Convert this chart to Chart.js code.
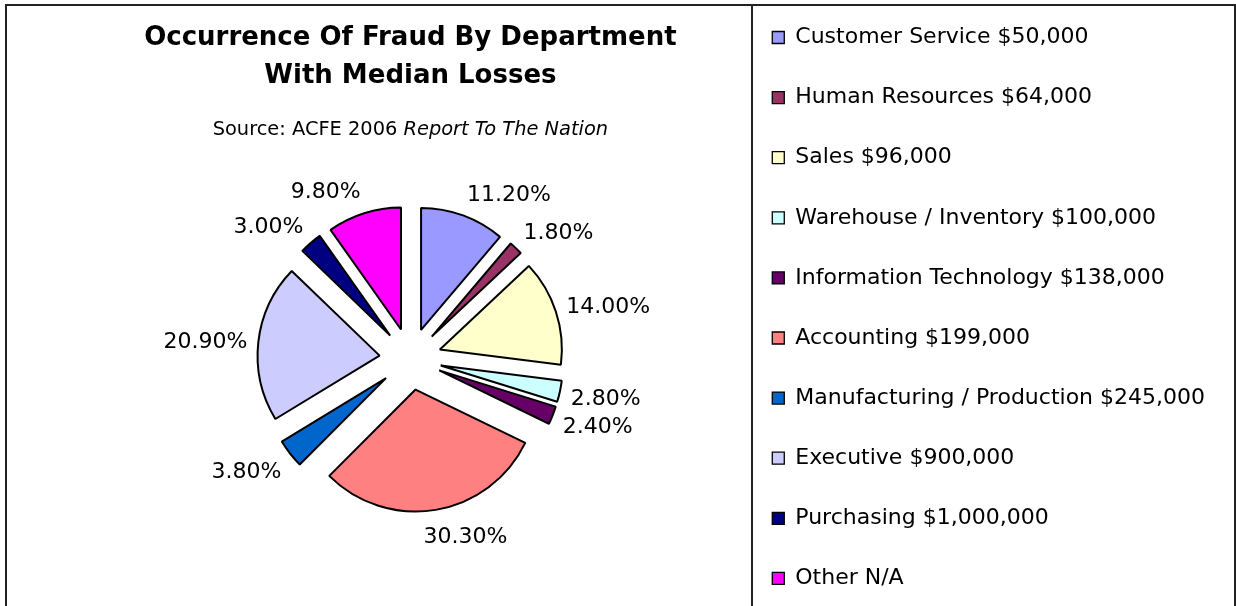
<!DOCTYPE html>
<html>
<head>
<meta charset="utf-8">
<script src="https://cdn.jsdelivr.net/npm/chart.js@4.4.1/dist/chart.umd.min.js"></script>
<style>
  html, body { margin: 0; padding: 0; background: #fff; overflow: hidden; width: 1236px; height: 606px; }
  canvas { display: block; }
</style>
</head>
<body>
<canvas id="c" width="1236" height="648" style="width:1236px;height:648px"></canvas>
<script>
// ---- data ----
const departments = ['Customer Service', 'Human Resources', 'Sales', 'Warehouse / Inventory',
  'Information Technology', 'Accounting', 'Manufacturing / Production', 'Executive', 'Purchasing', 'Other'];
const medianLosses = ['$50,000', '$64,000', '$96,000', '$100,000', '$138,000', '$199,000',
  '$245,000', '$900,000', '$1,000,000', 'N/A'];
const occurrencePct = [11.2, 1.8, 14.0, 2.8, 2.4, 30.3, 3.8, 20.9, 3.0, 9.8];
const chartTitle = ['Occurrence Of Fraud By Department', 'With Median Losses'];
const sourcePlain = 'Source: ACFE 2006 ';
const sourceItalic = 'Report To The Nation';

// ---- style ----
const FONT = '"DejaVu Sans", Verdana, sans-serif';
const sliceColors = ['#9999FF', '#993366', '#FFFFCC', '#CCFFFF', '#660066',
  '#FF8080', '#0066CC', '#CCCCFF', '#000080', '#FF00FF'];
const PIE_RADIUS = 122;
const EXPLODE = 31;

Chart.defaults.font.family = FONT;
Chart.defaults.color = '#000';

// white background, outer frame and the divider left of the legend
const frame = {
  id: 'frame',
  beforeDraw(chart) {
    const { ctx, width, height } = chart;
    ctx.save();
    ctx.fillStyle = '#fff';
    ctx.fillRect(0, 0, width, height);
    ctx.strokeStyle = '#222';
    ctx.lineWidth = 2;
    ctx.strokeRect(6, 5, width - 7, height + 20);
    const x = Math.round(chart.legend.left) + 6;
    ctx.beginPath();
    ctx.moveTo(x, 5);
    ctx.lineTo(x, height);
    ctx.stroke();
    ctx.restore();
  }
};

// pull every slice out from the centre along its own mid-angle
const explode = {
  id: 'explode',
  afterDatasetsUpdate(chart) {
    const a = chart.chartArea;
    const cx = (a.left + a.right) / 2, cy = (a.top + a.bottom) / 2;
    chart.getDatasetMeta(0).data.forEach(arc => {
      const m = (arc.startAngle + arc.endAngle) / 2;
      arc.x = cx + EXPLODE * Math.cos(m);
      arc.y = cy + EXPLODE * Math.sin(m);
    });
  }
};

// percentage labels just outside each slice
const pctLabels = {
  id: 'pctLabels',
  afterDatasetsDraw(chart) {
    const ctx = chart.ctx;
    const values = chart.data.datasets[0].data;
    ctx.save();
    ctx.font = '22px ' + FONT;
    ctx.fillStyle = '#000';
    ctx.textAlign = 'center';
    ctx.textBaseline = 'middle';
    chart.getDatasetMeta(0).data.forEach((arc, i) => {
      const m = (arc.startAngle + arc.endAngle) / 2;
      const c = Math.cos(m), s = Math.sin(m);
      const r = arc.outerRadius + 11;
      const px = arc.x + r * c, py = arc.y + r * s;
      const txt = values[i].toFixed(2) + '%';
      const w = ctx.measureText(txt).width;
      const k = Math.max(-1, Math.min(1, 4 * c));
      ctx.fillText(txt, px + k * w / 2, py + 14 * s + 3);
    });
    ctx.restore();
  }
};

// source line with italic report name
const sourceLine = {
  id: 'sourceLine',
  afterDraw(chart) {
    const ctx = chart.ctx;
    const t = chart.titleBlock;
    const cx = (t.left + t.right) / 2;
    const f1 = '19.4px ' + FONT, f2 = 'italic 19.4px ' + FONT;
    ctx.save();
    ctx.fillStyle = '#000';
    ctx.textBaseline = 'middle';
    ctx.textAlign = 'left';
    ctx.font = f1;
    const w1 = ctx.measureText(sourcePlain).width;
    ctx.font = f2;
    const w2 = ctx.measureText(sourceItalic).width;
    const x = cx - (w1 + w2) / 2, y = 130;
    ctx.font = f1;
    ctx.fillText(sourcePlain, x, y);
    ctx.font = f2;
    ctx.fillText(sourceItalic, x + w1, y);
    ctx.restore();
  }
};

const baseLegendLabels = (Chart.overrides.pie || Chart.overrides.doughnut).plugins.legend.labels.generateLabels;

new Chart(document.getElementById('c'), {
  type: 'pie',
  data: {
    labels: departments.map((d, i) => d + ' ' + medianLosses[i]),
    datasets: [{
      data: occurrencePct,
      backgroundColor: sliceColors,
      borderColor: '#000',
      borderWidth: 2,
      radius: PIE_RADIUS
    }]
  },
  options: {
    responsive: false,
    animation: false,
    events: [],
    layout: { padding: { left: 75, right: 21, top: 0, bottom: 0 } },
    plugins: {
      title: {
        display: true,
        text: chartTitle,
        fullSize: false,
        color: '#000',
        font: { family: FONT, size: 26, weight: 'bold', lineHeight: '38px' },
        padding: { top: 19, bottom: -25 }
      },
      legend: {
        position: 'right',
        align: 'start',
        labels: {
          color: '#000',
          font: { family: FONT, size: 22, lineHeight: '33.6px' },
          boxWidth: 12,
          boxHeight: 12,
          padding: 26.5,
          generateLabels(chart) {
            return baseLegendLabels(chart).map(it =>
              Object.assign(it, { text: [it.text], lineWidth: 1.3, strokeStyle: '#000' }));
          }
        }
      },
      tooltip: { enabled: false }
    }
  },
  plugins: [frame, explode, pctLabels, sourceLine]
});
</script>
</body>
</html>
